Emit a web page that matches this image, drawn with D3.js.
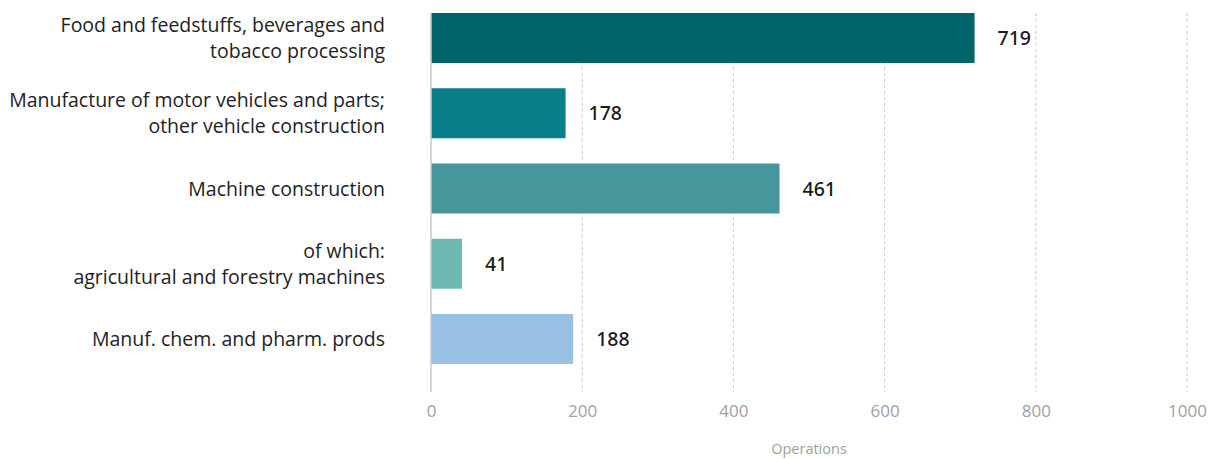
<!DOCTYPE html>
<html>
<head>
<meta charset="utf-8">
<script src="https://cdn.jsdelivr.net/npm/d3@7"></script>
<style>
  html, body { margin: 0; padding: 0; background: #fff; }
  svg { display: block; }
</style>
</head>
<body>
<svg id="chart" width="1210" height="459"></svg>
<script>
// Sector categories (each may wrap onto two lines)
const categories = [
  ["Food and feedstuffs, beverages and", "tobacco processing"],
  ["Manufacture of motor vehicles and parts;", "other vehicle construction"],
  ["Machine construction"],
  ["of which:", "agricultural and forestry machines"],
  ["Manuf. chem. and pharm. prods"]
];
const values = [719, 178, 461, 41, 188];
const barColors = ["#00646a", "#067f8b", "#45979b", "#6fb9b3", "#98c1e3"];
const xTicks = [0, 200, 400, 600, 800, 1000];
const xTitle = "Operations";

const svg = d3.select("#chart");
const plotLeft = 431, plotRight = 1187, plotTop = 13, plotBottom = 392;

const x = d3.scaleLinear().domain([0, 1000]).range([plotLeft, plotRight]);
const y = d3.scaleBand()
  .domain(d3.range(values.length))
  .range([plotTop, 364])
  .paddingInner(0.336)
  .paddingOuter(0);

// dashed vertical grid lines
svg.append("g")
  .selectAll("line")
  .data(xTicks.filter(d => d > 0))
  .join("line")
  .attr("x1", d => x(d)).attr("x2", d => x(d))
  .attr("y1", plotTop).attr("y2", plotBottom)
  .attr("stroke", "#c8c8c8")
  .attr("stroke-width", 1)
  .attr("stroke-dasharray", "3,3");

// bottom axis tick labels
const xAxis = d3.axisBottom(x).tickValues(xTicks).tickFormat(d3.format("d"))
  .tickSize(0).tickPadding(0);
const gx = svg.append("g").attr("transform", `translate(0,${plotBottom})`).call(xAxis);
gx.select(".domain").remove();
gx.selectAll("text")
  .attr("dy", null)
  .attr("y", 25)
  .attr("font-family", "'Open Sans', sans-serif")
  .attr("font-size", 17)
  .attr("fill", "#a0a0a0");

// axis title
svg.append("text")
  .attr("x", (plotLeft + plotRight) / 2)
  .attr("y", 454)
  .attr("text-anchor", "middle")
  .attr("font-family", "'Open Sans', sans-serif")
  .attr("font-size", 14.5)
  .attr("fill", "#a0a0a0")
  .text(xTitle);

// bars
svg.append("g")
  .selectAll("rect")
  .data(values)
  .join("rect")
  .attr("x", x(0))
  .attr("y", (d, i) => y(i))
  .attr("width", d => x(d) - x(0))
  .attr("height", y.bandwidth())
  .attr("fill", (d, i) => barColors[i]);

// baseline
svg.append("line")
  .attr("x1", x(0)).attr("x2", x(0))
  .attr("y1", plotTop).attr("y2", plotBottom)
  .attr("stroke", "#c8c8c8")
  .attr("stroke-width", 1.5);

// value labels
svg.append("g")
  .selectAll("text")
  .data(values)
  .join("text")
  .attr("x", d => x(d) + 23)
  .attr("y", (d, i) => y(i) + y.bandwidth() / 2)
  .attr("dy", "0.36em")
  .attr("font-family", "'Noto Sans', sans-serif")
  .attr("font-weight", 500)
  .attr("font-size", 19.5)
  .attr("fill", "#1a1a1a")
  .text(d => d);

// category labels
const catG = svg.append("g")
  .selectAll("text")
  .data(categories)
  .join("text")
  .attr("text-anchor", "end")
  .attr("font-family", "'Open Sans', sans-serif")
  .attr("font-size", 19.5)
  .attr("fill", "#222");

catG.each(function(lines, i) {
  const cy = y(i) + y.bandwidth() / 2;
  const lh = 26;
  const t = d3.select(this);
  lines.forEach((ln, k) => {
    t.append("tspan")
      .attr("x", 385)
      .attr("y", cy + (k - (lines.length - 1) / 2) * lh)
      .attr("dy", "0.36em")
      .text(ln);
  });
});
</script>
</body>
</html>
